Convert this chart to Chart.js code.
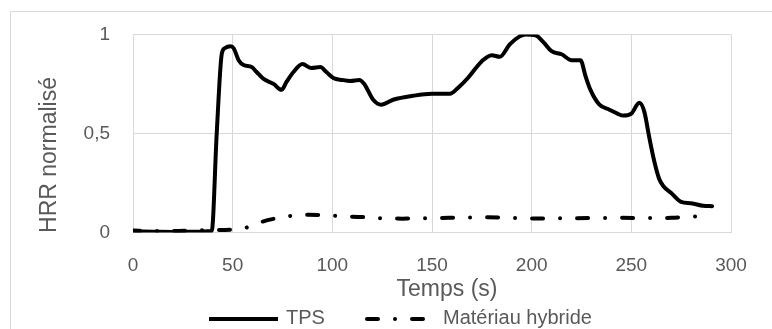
<!DOCTYPE html>
<html>
<head>
<meta charset="utf-8">
<script src="https://cdn.jsdelivr.net/npm/chart.js@4"></script>
<style>
  html, body { margin: 0; padding: 0; background: #fff; }
  #wrap { width: 772px; height: 329px; }
</style>
</head>
<body>
<div id="wrap"><canvas id="hrrChart"></canvas></div>
<script>
// valeurs
var tempsTPS = [0, 10, 20, 30, 39.5, 42, 44.5, 46, 49, 50.5, 53, 55.5, 59.5, 62, 65.5, 70.5, 74.5, 77,
    80.5, 85, 89.5, 94, 97, 100.5, 105, 109, 113.5, 116, 120.5, 124.5, 130.5, 140.5, 150, 159, 163,
    168, 172, 175, 180, 184, 189, 194, 197, 202, 206, 210, 215, 220, 224.5, 227, 229.5, 234, 239,
    243, 246, 250, 254, 256.5, 259, 261.5, 264, 266, 270, 275, 280, 286, 290.5];
var valeursTPS = [0.005, 0.004, 0.003, 0.004, 0.008, 0.5, 0.9, 0.93, 0.94, 0.93, 0.87, 0.845, 0.835, 0.81,
    0.775, 0.75, 0.72, 0.76, 0.81, 0.85, 0.83, 0.835, 0.81, 0.78, 0.77, 0.765, 0.77, 0.75, 0.67, 0.645,
    0.67, 0.69, 0.70, 0.70, 0.73, 0.78, 0.83, 0.865, 0.895, 0.887, 0.95, 0.99, 1.0, 0.995, 0.96, 0.915,
    0.90, 0.87, 0.87, 0.79, 0.72, 0.645, 0.62, 0.60, 0.59, 0.60, 0.655, 0.61, 0.48, 0.36, 0.27, 0.235,
    0.20, 0.155, 0.148, 0.135, 0.133];

var tempsHybride = [0, 10, 20, 30, 40, 50, 55, 60, 65, 72, 80, 88, 95, 105, 115, 125, 135, 150, 165,
    178, 190, 200, 215, 230, 245, 260, 270, 280, 290];
var valeursHybride = [0.01, 0.008, 0.008, 0.01, 0.012, 0.015, 0.02, 0.035, 0.055, 0.072, 0.085, 0.09,
    0.088, 0.082, 0.078, 0.072, 0.07, 0.073, 0.075, 0.077, 0.074, 0.071, 0.072, 0.073, 0.074, 0.073,
    0.074, 0.08, 0.085];

var ticksX = [0, 50, 100, 150, 200, 250, 300];
var ticksY = [0, 0.5, 1];

var police = "'Liberation Sans', Arial, sans-serif";
var gris = '#595959';
var grille = '#d9d9d9';
var tiret = [11, 17, 0.01, 17];

function points(xs, ys) {
    return xs.map(function (x, i) { return { x: x, y: ys[i] }; });
}

// cadre, titres d'axes et legende
var decor = {
    id: 'decor',
    beforeDraw: function (chart) {
        var c = chart.ctx;
        c.save();
        c.strokeStyle = grille;
        c.lineWidth = 1;
        c.strokeRect(10.5, 11.5, 900, 500);
        c.restore();
    },
    afterDraw: function (chart) {
        var c = chart.ctx;
        c.save();
        c.fillStyle = gris;
        c.textBaseline = 'middle';
        c.textAlign = 'center';

        c.font = '23px ' + police;
        c.fillText('Temps (s)', 447, 290);

        c.save();
        c.translate(50, 155);
        c.rotate(-Math.PI / 2);
        c.fillText('HRR normalisé', 0, 0);
        c.restore();

        // legende
        c.strokeStyle = '#000';
        c.lineWidth = 4;
        c.beginPath();
        c.moveTo(209, 319);
        c.lineTo(278, 319);
        c.stroke();

        c.lineCap = 'round';
        c.setLineDash(tiret);
        c.beginPath();
        c.moveTo(367, 319);
        c.lineTo(425, 319);
        c.stroke();
        c.setLineDash([]);

        c.font = '20px ' + police;
        c.textAlign = 'left';
        c.fillText('TPS', 286, 318);
        c.fillText('Matériau hybride', 443, 318);
        c.restore();
    }
};

var ctx = document.getElementById('hrrChart').getContext('2d');

var hrrChart = new Chart(ctx, {
    type: 'line',
    data: {
        datasets: [{
            label: 'TPS',
            data: points(tempsTPS, valeursTPS),
            borderColor: '#000',
            borderWidth: 4,
            pointRadius: 0,
            cubicInterpolationMode: 'monotone',
            borderCapStyle: 'round',
            borderJoinStyle: 'round'
        }, {
            label: 'Matériau hybride',
            data: points(tempsHybride, valeursHybride),
            borderColor: '#000',
            borderWidth: 4,
            borderDash: tiret,
            borderDashOffset: 4,
            borderCapStyle: 'round',
            pointRadius: 0,
            cubicInterpolationMode: 'monotone'
        }]
    },
    options: {
        responsive: true,
        maintainAspectRatio: false,
        animation: false,
        layout: { padding: { top: 34, right: 41, bottom: 0, left: 0 } },
        plugins: {
            legend: { display: false },
            tooltip: { enabled: false }
        },
        scales: {
            x: {
                type: 'linear',
                min: 0,
                max: 300,
                afterBuildTicks: function (axis) {
                    axis.ticks = ticksX.map(function (v) { return { value: v }; });
                },
                afterFit: function (axis) { axis.height = 96.5; },
                grid: { color: grille, drawTicks: false },
                border: { color: grille },
                ticks: {
                    color: gris,
                    padding: 22,
                    maxRotation: 0,
                    font: { family: police, size: 19 }
                }
            },
            y: {
                min: 0,
                max: 1,
                afterBuildTicks: function (axis) {
                    axis.ticks = ticksY.map(function (v) { return { value: v }; });
                },
                afterFit: function (axis) { axis.width = 133; },
                grid: { color: grille, drawTicks: false },
                border: { color: grille },
                ticks: {
                    color: gris,
                    padding: 23,
                    font: { family: police, size: 19 },
                    callback: function (value) {
                        return String(value).replace('.', ',');
                    }
                }
            }
        }
    },
    plugins: [decor]
});
</script>
</body>
</html>
